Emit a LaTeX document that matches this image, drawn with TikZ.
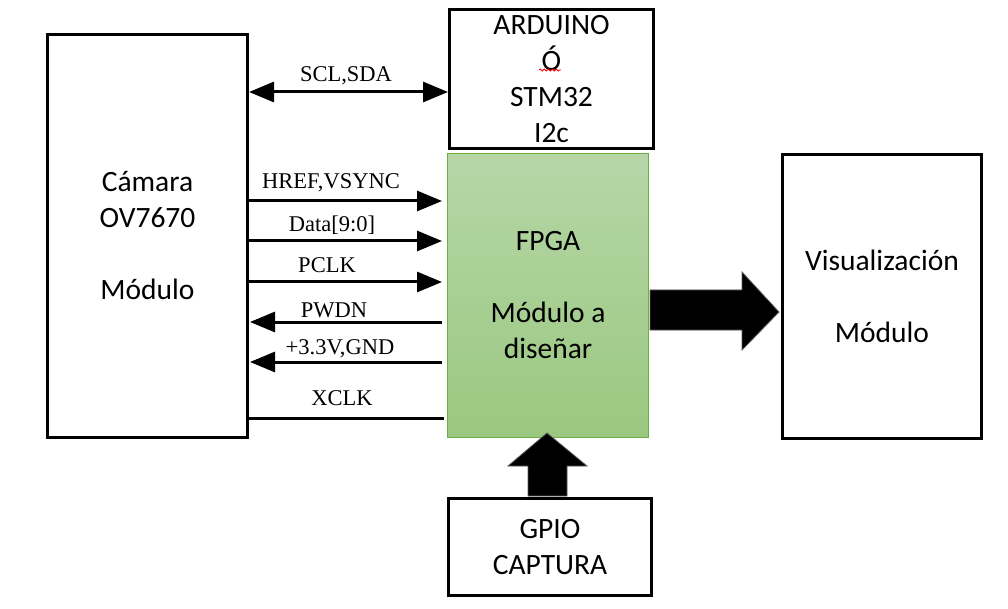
\documentclass[tikz,border=0pt]{standalone}
\usepackage{fontspec}
\setmainfont{Carlito}
\newfontfamily\lblfont{Liberation Serif}
\usetikzlibrary{arrows.meta,decorations.pathmorphing}
\tikzset{
  box/.style={draw=black, line width=3pt, fill=white, inner sep=0pt, align=center,
    font=\fontsize{29.5}{36}\selectfont},
  fpgabox/.style={draw={rgb,255:red,112;green,173;blue,71}, line width=1pt, inner sep=0pt, align=center,
    top color={rgb,255:red,182;green,214;blue,167}, bottom color={rgb,255:red,154;green,200;blue,128},
    font=\fontsize{29.5}{36}\selectfont},
  sig/.style={line width=3pt, -{Triangle[length=25pt,width=20pt]}},
  sigb/.style={line width=3pt, {Triangle[length=25pt,width=20pt]}-{Triangle[length=25pt,width=20pt]}},
  plain/.style={line width=3pt},
  lbl/.style={font=\lblfont\fontsize{22.5}{24}\selectfont, inner sep=0pt},
  bigarrow/.style={fill=black, draw={rgb,255:red,90;green,90;blue,90}, line width=0.8pt},
}
\begin{document}
\begin{tikzpicture}[x=1pt,y=-1pt]
\useasboundingbox (0,0) rectangle (1008,609);
\node[box, anchor=north west, minimum width=200pt, minimum height=403pt] (cam) at (46,33)
  {Cámara\\OV7670\\[36pt]Módulo};
\node[box, anchor=north west, minimum width=204pt, minimum height=139pt] (ard) at (448,8)
  {ARDUINO\\Ó\\STM32\\I2c};
\node[fpgabox, anchor=north west, minimum width=201pt, minimum height=284pt] (fpga) at (447,153)
  {FPGA\\[36pt]Módulo a\\diseñar};
\node[box, anchor=north west, minimum width=199pt, minimum height=284pt] (vis) at (781,153)
  {Visualización\\[36pt]Módulo};
\node[box, anchor=north west, minimum width=203pt, minimum height=97pt] (gpio) at (447,497)
  {GPIO\\CAPTURA};
% spell-check squiggle
\draw[red, line width=0.8pt, decorate, decoration={snake, segment length=4pt, amplitude=1pt}] (539,70) -- (561,70);
% signals
\draw[sigb] (cam.east |- 0,92) -- (ard.west |- 0,92);
\draw[sig] (cam.east |- 0,201) -- ([xshift=-5pt]fpga.west |- 0,201);
\draw[sig] (cam.east |- 0,241) -- ([xshift=-5pt]fpga.west |- 0,241);
\draw[sig] (cam.east |- 0,282) -- ([xshift=-5pt]fpga.west |- 0,282);
\draw[sig] ([xshift=-5pt]fpga.west |- 0,322) -- ([xshift=1pt]cam.east |- 0,322);
\draw[sig] ([xshift=-5pt]fpga.west |- 0,362) -- ([xshift=1pt]cam.east |- 0,362);
\draw[plain] (cam.east |- 0,418) -- ([xshift=-3pt]fpga.west |- 0,418);
\node[lbl] (l1) at (346,76) {SCL,SDA};
\node[lbl] (l2) at (331,183) {HREF,VSYNC};
\node[lbl] (l3) at (332,225) {Data[9:0]};
\node[lbl] (l4) at (327,265) {PCLK};
\node[lbl] (l5) at (334,310) {PWDN};
\node[lbl] (l6) at (340,349) {+3.3V,GND};
\node[lbl] (l7) at (342,398) {XCLK};
% big arrows
\draw[bigarrow] (650,290) -- (742,290) -- (742,272) -- (779,312) -- (742,350) -- (742,330) -- (650,330) -- cycle;
\draw[bigarrow] (528,496) -- (528,466) -- (508,466) -- (547,433) -- (587,466) -- (567,466) -- (567,496) -- cycle;
\end{tikzpicture}
\end{document}
